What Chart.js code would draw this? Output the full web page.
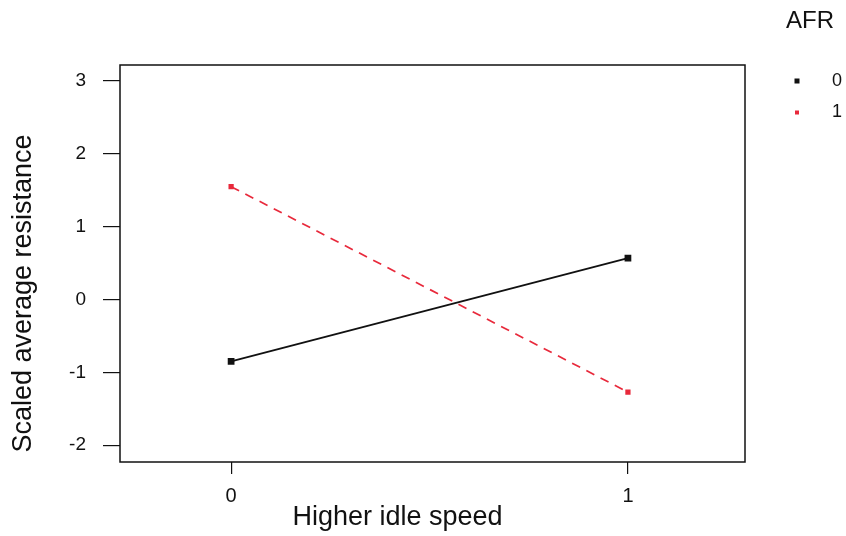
<!DOCTYPE html>
<html>
<head>
<meta charset="utf-8">
<script src="https://cdn.jsdelivr.net/npm/chart.js@4"></script>
<style>
  html, body { margin: 0; padding: 0; background: #fff; }
  #wrap { width: 846px; height: 536px; }
</style>
</head>
<body>
<div id="wrap"><canvas id="c" width="846" height="536"></canvas></div>
<script>
const categories = [0, 1];           // Higher idle speed
const seriesLabels = ['0', '1'];     // AFR
const afr0 = [-0.85, 0.57];
const afr1 = [1.55, -1.27];
const xTicks = [0, 1];
const yTicks = [-2, -1, 0, 1, 2, 3];
const xTitle = 'Higher idle speed';
const yTitle = 'Scaled average resistance';
const legendTitle = 'AFR';

const FONT = '"Liberation Sans", Arial, Helvetica, sans-serif';
const RED = '#e8293b';

const boxPlugin = {
  id: 'boxAndTitles',
  afterDraw(chart) {
    const { ctx, chartArea: a } = chart;
    ctx.save();
    ctx.strokeStyle = '#111';
    ctx.lineWidth = 1.5;
    ctx.strokeRect(a.left, a.top, a.right - a.left, a.bottom - a.top);

    ctx.fillStyle = '#111';
    ctx.font = '27px ' + FONT;
    ctx.textAlign = 'center';
    ctx.textBaseline = 'middle';
    // x title
    ctx.fillText(xTitle, (a.left + a.right) / 2 - 35, a.bottom + 56);
    // y title
    ctx.save();
    ctx.translate(24, (a.top + a.bottom) / 2 + 30);
    ctx.rotate(-Math.PI / 2);
    ctx.fillText(yTitle, 0, 0);
    ctx.restore();

    // legend
    ctx.font = '24px ' + FONT;
    ctx.fillText(legendTitle, a.right + 65, 21);
    ctx.font = '18px ' + FONT;
    ctx.textAlign = 'left';
    chart.data.datasets.forEach((ds, i) => {
      const y = 81 + i * 31.5;
      const s = i === 0 ? 5 : 4;
      ctx.fillStyle = ds.borderColor;
      ctx.fillRect(a.right + 52 - s / 2, y - s / 2, s, s);
      ctx.fillStyle = '#111';
      ctx.fillText(ds.label, a.right + 87, y);
    });
    ctx.restore();
  }
};

new Chart(document.getElementById('c'), {
  type: 'line',
  data: {
    datasets: [
      {
        label: seriesLabels[0],
        data: categories.map((c, i) => ({ x: c, y: afr0[i] })),
        borderColor: '#111',
        backgroundColor: '#111',
        borderWidth: 1.8,
        pointStyle: 'rect',
        pointRadius: 3.5,
        fill: false
      },
      {
        label: seriesLabels[1],
        data: categories.map((c, i) => ({ x: c, y: afr1[i] })),
        borderColor: RED,
        backgroundColor: RED,
        borderWidth: 1.7,
        borderDash: [9, 7],
        pointStyle: 'rect',
        pointRadius: 2.5,
        fill: false
      }
    ]
  },
  options: {
    responsive: false,
    animation: false,
    layout: { padding: { top: 65, right: 101, left: 0, bottom: 0 } },
    plugins: { legend: { display: false }, tooltip: { enabled: false } },
    scales: {
      x: {
        type: 'linear',
        min: -0.28,
        max: 1.295,
        afterBuildTicks(s) { s.ticks = xTicks.map(v => ({ value: v })); },
        afterFit(s) { s.height = 74; },
        grid: { drawOnChartArea: false, drawTicks: true, tickLength: 12, color: '#111', lineWidth: 1.2 },
        border: { display: false },
        ticks: { color: '#111', font: { family: FONT, size: 20 }, padding: 10, maxRotation: 0 }
      },
      y: {
        type: 'linear',
        min: -2.23,
        max: 3.22,
        afterBuildTicks(s) { s.ticks = yTicks.map(v => ({ value: v })); },
        afterFit(s) { s.width = 120; },
        grid: { drawOnChartArea: false, drawTicks: true, tickLength: 17, color: '#111', lineWidth: 1.2 },
        border: { display: false },
        ticks: { color: '#111', font: { family: FONT, size: 19 }, padding: 17 }
      }
    }
  },
  plugins: [boxPlugin]
});
</script>
</body>
</html>
